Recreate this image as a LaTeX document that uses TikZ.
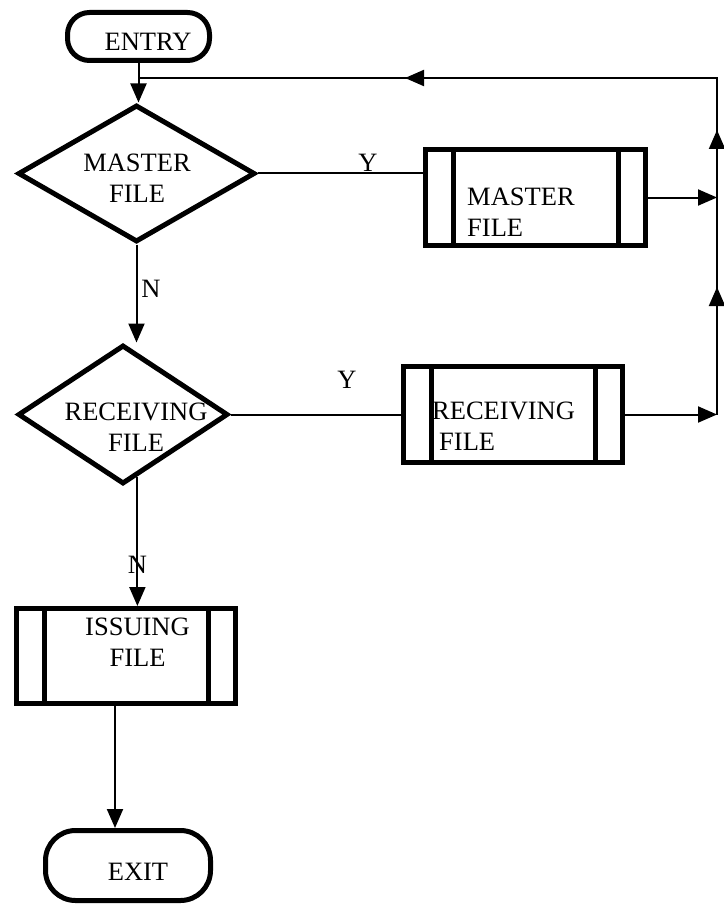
\documentclass[tikz,border=0pt]{standalone}
\usepackage{fontspec}
\setmainfont{Liberation Serif}
\usetikzlibrary{shapes.geometric,arrows.meta,calc}
\begin{document}
\begin{tikzpicture}[x=1pt,y=-1pt,
  shapeline/.style={draw=black, line width=5pt},
  term/.style={shapeline, rectangle, inner sep=0pt},
  decision/.style={shapeline, diamond, inner sep=0pt},
  procbox/.style={shapeline, rectangle, inner sep=0pt, minimum width=220pt, minimum height=96pt,
     path picture={\draw[line width=5pt] ([xshift=27.5pt]path picture bounding box.north west) -- ([xshift=27.5pt]path picture bounding box.south west);
     \draw[line width=5pt] ([xshift=-27.5pt]path picture bounding box.north east) -- ([xshift=-27.5pt]path picture bounding box.south east);}},
  lbl/.style={font=\fontsize{26.5pt}{31pt}\selectfont, inner sep=0pt, align=center},
  conn/.style={line width=2pt},
  arr/.style={conn, -{Triangle[length=19pt,width=16pt]}},
]
\path[use as bounding box] (0,0) rectangle (723,904);

% shapes
\node[term, minimum width=142pt, minimum height=48pt, rounded corners=22pt] (entry) at (138.5,36.5) {};
\node[lbl] (entryt) at (148,42) {ENTRY};

\node[decision, minimum width=237pt, minimum height=137pt] (mdia) at (136.5,173.5) {};
\node[lbl] (mdiat) at (137,178.5) {MASTER\\FILE};

\node[procbox] (mbox) at (535.5,197.5) {};
\node[lbl, anchor=west, align=left] (mboxt) at (467,212) {MASTER\\FILE};

\node[decision, minimum width=210pt, minimum height=139pt] (rdia) at (123,414.5) {};
\node[lbl] (rdiat) at (136,427.5) {RECEIVING\\FILE};

\node[procbox, minimum width=219pt] (rbox) at (513,414.5) {};
\node[lbl, anchor=west, align=left] (rboxt) at (432,426) {RECEIVING\\\hspace*{7pt}FILE};

\node[procbox, minimum width=219pt, minimum height=95pt] (ibox) at (126,656) {};
\node[lbl] (iboxt) at (137.5,642) {ISSUING\\FILE};

\node[term, minimum width=165pt, minimum height=70pt, rounded corners=30pt] (exit) at (128,865.5) {};
\node[lbl] (exitt) at (138,872) {EXIT};

% labels
\node[lbl, anchor=south] (y1) at (368,172) {Y};
\node[lbl] (y2) at (347,380) {Y};
\node[lbl] (n1) at (151,289) {N};
\node[lbl] (n2) at (137.5,565) {N};

% connectors
\draw[arr] (entry.south) -- (entry.south |- mdia.north);
\draw[conn] (mdia.east) -- (mdia.east -| mbox.west);
\draw[arr] (mdia.south) -- (mdia.south |- rdia.north);
\draw[conn] (rdia.east) -- (rdia.east -| rbox.west);
\draw[arr] (rdia.283) -- (rdia.283 |- ibox.north);
\draw[arr] ([xshift=-11pt]ibox.south) -- ([xshift=-11pt]ibox.south |- exit.north);

\coordinate (cM) at (717,197.5);
\coordinate (cR) at (717,414.5);
\coordinate (cT) at (717,78);
\coordinate (cJ) at (entry.south |- cT);
\coordinate (tipA) at (717,287);
\coordinate (tipB) at (717,130);
\coordinate (tipC) at (405,78);

\draw[arr] (mbox.east) -- (cM);
\draw[arr] (rbox.east) -- (cR);
\draw[conn] (cR) -- (cT) -- (cJ);
\draw[arr] (cR) -- (tipA);
\draw[arr] (cM) -- (tipB);
\draw[arr] (cT) -- (tipC);
\end{tikzpicture}
\end{document}
